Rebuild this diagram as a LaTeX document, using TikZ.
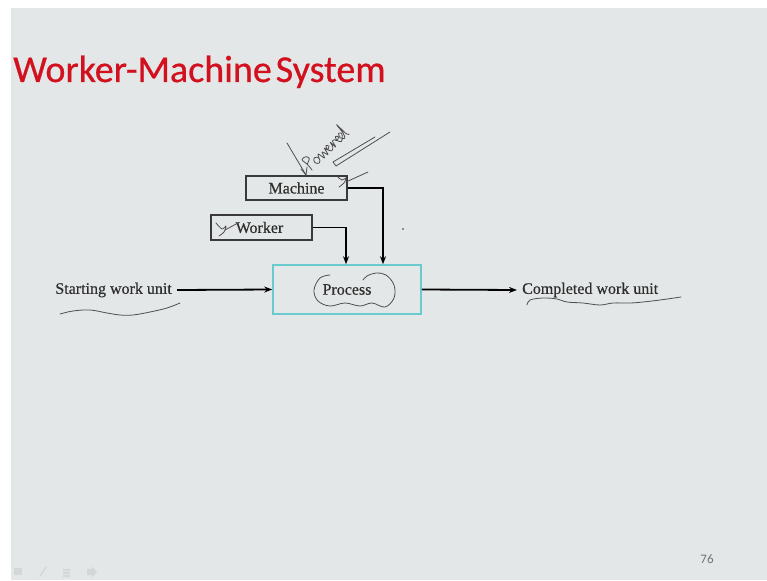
\documentclass[tikz,border=0pt]{standalone}
\usepackage{fontspec}
\setmainfont{Liberation Serif}
\newfontfamily\titlefont{Carlito}[FakeBold=0.6]
\newfontfamily\numfont{Carlito}
\newfontfamily\diagfont{Liberation Serif}[FakeBold=0.5]
\usetikzlibrary{arrows.meta}
\definecolor{slidebg}{HTML}{E4E7E7}
\definecolor{titlered}{HTML}{D2101E}
\definecolor{procblue}{HTML}{6ACBCF}
\definecolor{ink}{HTML}{3A3A3A}
\definecolor{navgray}{HTML}{D2D7D7}
\tikzset{
  blockbox/.style={draw=ink, line width=1.1pt, fill=slidebg, inner sep=0pt},
  label/.style={font=\diagfont\fontsize{16}{17}\selectfont, text=black!82},
  flow/.style={line width=1.8pt, -{Stealth[length=8pt,width=6pt]}},
  pen/.style={draw=ink!90, line width=0.8pt, line cap=round, line join=round},
}
\begin{document}
\begin{tikzpicture}[x=1pt,y=-1pt]
  % page and slide area
  \fill[white] (0,0) rectangle (767,580);
  \fill[slidebg] (11,8) rectangle (767,580);
  \useasboundingbox (0,0) rectangle (767,580);

  % title
  \node[anchor=base west, inner sep=0pt, text=titlered, font=\titlefont\fontsize{38}{40}\selectfont]
    (title) at (13,82) {Worker-Machine\hspace{4pt}System};

  % blocks
  \node[blockbox, minimum width=101pt, minimum height=24pt, label] (machine) at (296.5,188) {Machine};
  \node[blockbox, minimum width=101pt, minimum height=25pt, label] (worker) at (261.5,227.5) {\hspace*{-4pt}Worker};
  \node[draw=procblue, line width=1.6pt, fill=slidebg, minimum width=148pt, minimum height=49pt, inner sep=0pt, label]
    (process) at (347,289.5) {Process};

  % outer labels
  \node[label, anchor=east, inner sep=0pt] (start) at (172,290) {Starting work unit};
  \node[label, anchor=west, inner sep=0pt] (done) at (522,290) {Completed work unit};

  % connectors
  \coordinate (mtop) at (383,265);
  \coordinate (wtop) at (346,265);
  \draw[flow] (machine.east) -| (process.north -| mtop);
  \draw[flow] (worker.east) -| (process.north -| wtop);
  \draw[flow] ([xshift=5pt]start.east) -- (process.west);
  \draw[flow] (process.east) -- ([xshift=-5pt]done.west);

  % hand-written annotations
  % arrow pointing at the machine
  \draw[pen] (287,143) -- (306,175);
  \draw[pen] (301,169) -- (306,175) -- (307,167);
  % "Powered" written at an angle
  \begin{scope}[shift={(312,170)}, rotate=44, scale=1.2]
    \draw[pen] plot[smooth, tension=0.6] coordinates {
      (0,0) (0.5,-6) (0,-12) (4,-11.5) (5,-8.5) (1,-6.5)};
    \draw[pen] plot[smooth cycle, tension=0.8] coordinates {(6,-3) (8.5,-6) (11,-3) (8.5,0)};
    \draw[pen] plot[smooth, tension=0.5] coordinates {
      (11,-3) (13,-6) (14.5,0) (16.5,-5) (18.5,0) (20,-6) (21,-3) (24,-4.5) (22.5,-6.5) (21,-3.5)
      (23,0) (26,-2) (27,-6) (27.5,0) (29,-5.5) (31,-5) (32,-3) (35,-4.5) (33.5,-6.5) (32,-3.5)
      (34,0) (37,-2) (39,-5) (37,-6.5) (35.5,-3) (38,0) (40,-4) (41,-13) (41.5,-2) (43,0)};
  \end{scope}
  % double stroke
  \draw[pen] (375,137) -- (333,162) -- (336,166) -- (390,132);
  % tick beside the machine
  \draw[pen] plot[smooth, tension=0.7] coordinates {(338,177) (342,180) (346,178) (344,183) (339,187)};
  \draw[pen] (346,182) -- (368,172);
  % tick beside the worker
  \draw[pen] plot[smooth, tension=0.5] coordinates {(216,223) (222,229) (226,226) (224,232) (219,236)};
  \draw[pen] (225,230) -- (238,223);
  % cloud round the process
  \draw[pen] plot[smooth, tension=0.6] coordinates {
    (330,275) (320,278) (314,290) (318,301) (330,306) (345,303) (360,306) (372,303) (385,307)
    (394,298) (394,285) (386,275) (376,273) (367,276) (363,280)};
  % wavy underlines
  \draw[pen] plot[smooth, tension=0.6] coordinates {
    (60,314) (73,311) (90,310) (107,313) (120,315) (133,315) (150,312) (167,308) (180,303)};
  \draw[pen] plot[smooth, tension=0.6] coordinates {
    (527,305) (530,300) (543,298) (557,299) (567,302) (583,303) (600,305) (613,303) (630,303)
    (643,302) (660,300) (681,297)};
  % stray dot
  \fill[ink] (403,229) circle (0.9pt);

  % page number
  \node[anchor=base, inner sep=0pt, text=black!55, font=\numfont\fontsize{13}{14}\selectfont] (pagenum) at (707,563) {76};

  % navigation icons
  \begin{scope}[navgray]
    \fill (14,568) -- (22,568) -- (22,575) -- (14,575) -- cycle;
    \draw[line width=1.5pt] (40,576) -- (46,567);
    \fill (63,569) rectangle (70,571) (63,572) rectangle (70,574) (63,575) rectangle (70,577);
    \fill (87,569) -- (92,569) -- (92,566.5) -- (97,572) -- (92,577.5) -- (92,575) -- (87,575) -- cycle;
  \end{scope}
\end{tikzpicture}
\end{document}
